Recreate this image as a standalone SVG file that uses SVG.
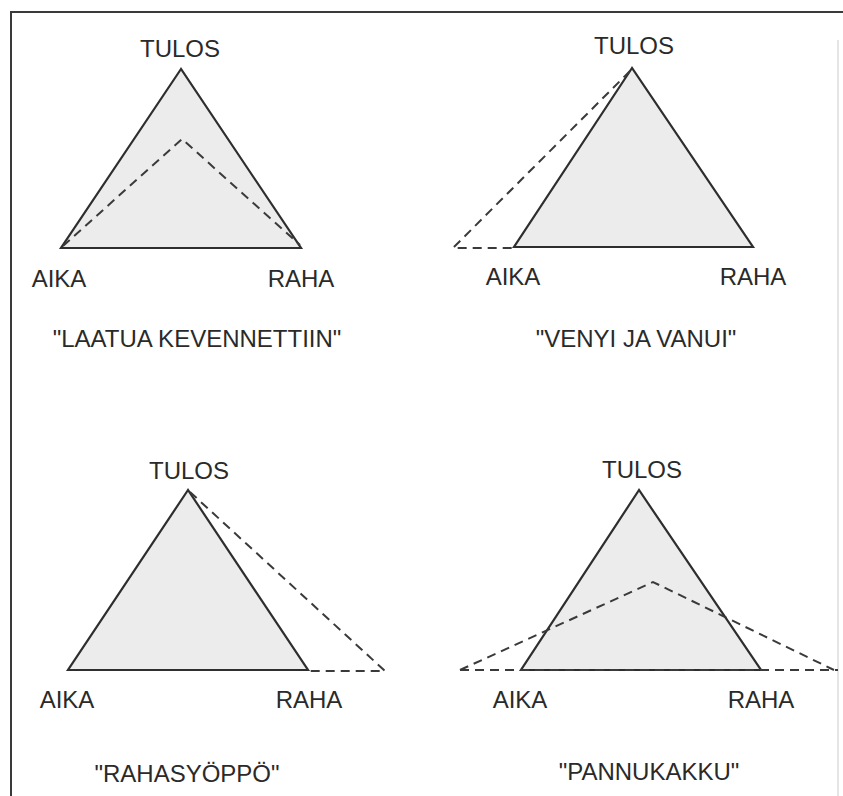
<svg xmlns="http://www.w3.org/2000/svg" width="843" height="796" viewBox="0 0 843 796">
<style>
.bg{fill:#ffffff}
.frame{stroke:#3a3a3a;stroke-width:2;fill:none}
.frame2{stroke:#dcdcdc;stroke-width:1.5;fill:none}
.tri{fill:#ececec;stroke:#2e2e2e;stroke-width:2.2;stroke-linejoin:miter}
.dash{fill:none;stroke:#3a3a3a;stroke-width:2;stroke-dasharray:9 6}
text{font-family:"Liberation Sans",Arial,sans-serif;font-size:24px;fill:#2a2a2a;text-anchor:middle}
</style>
<rect class="bg" x="0" y="0" width="843" height="796"/>
<g id="frame">
<path class="frame" d="M11,796 V12 H843"/>
<path class="frame2" d="M838,40 V796"/>
</g>
<g id="diagram1">
<polygon class="tri" points="181,69 61,248 301,248"/>
<text x="180" y="57">TULOS</text>
<text x="59" y="287">AIKA</text>
<text x="301" y="287">RAHA</text>
<text x="197" y="347">"LAATUA KEVENNETTIIN"</text>
</g>
<g id="diagram2">
<polygon class="tri" points="632,68 514,247 753,247"/>
<text x="634" y="54">TULOS</text>
<text x="513" y="285">AIKA</text>
<text x="753" y="285">RAHA</text>
<text x="636" y="347">"VENYI JA VANUI"</text>
</g>
<g id="diagram3">
<polygon class="tri" points="188,490 68,670 308,670"/>
<text x="189" y="479">TULOS</text>
<text x="67" y="708">AIKA</text>
<text x="309" y="708">RAHA</text>
<text x="187" y="782">"RAHASYÖPPÖ"</text>
</g>
<g id="diagram4">
<polygon class="tri" points="639,490 521,670 761,670"/>
<text x="642" y="478">TULOS</text>
<text x="520" y="708">AIKA</text>
<text x="761" y="708">RAHA</text>
<text x="649" y="780">"PANNUKAKKU"</text>
</g>
<g id="connectors">
<polyline class="dash" points="63,246 182,139 300,245"/>
<polyline class="dash" points="630,71 453,248 514,248"/>
<polyline class="dash" points="190,492 385,671 308,671"/>
<polyline class="dash" points="460,670 653,582 834,670"/>
<line class="dash" x1="460" y1="670" x2="838" y2="670"/>
</g>
</svg>
